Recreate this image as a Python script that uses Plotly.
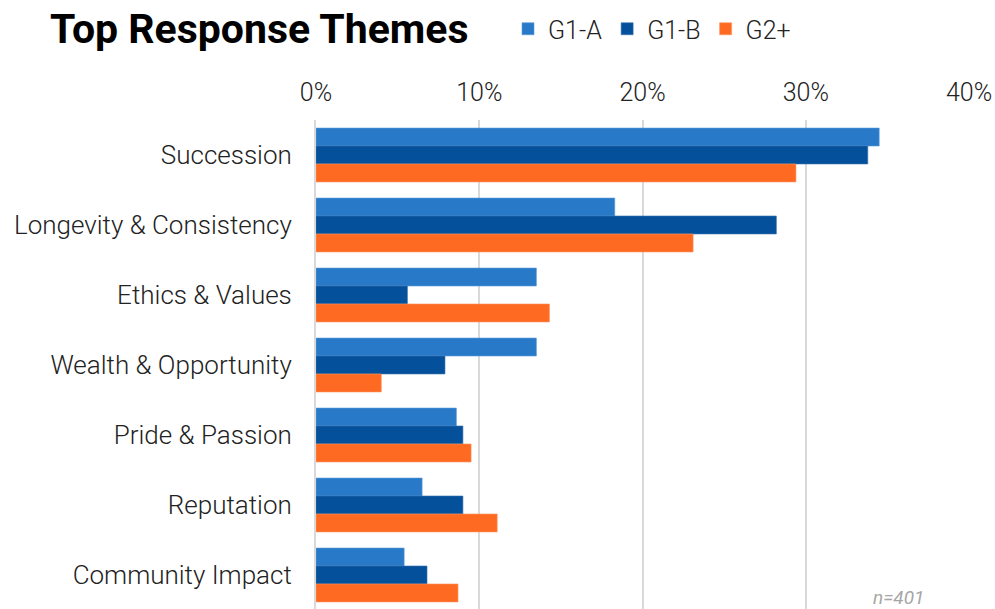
import plotly.graph_objects as go

# Response themes and share of respondents in each generation group
categories = [
    "Succession",
    "Longevity & Consistency",
    "Ethics & Values",
    "Wealth & Opportunity",
    "Pride & Passion",
    "Reputation",
    "Community Impact",
]
g1a = [34.5, 18.3, 13.5, 13.5, 8.6, 6.5, 5.4]
g1b = [33.8, 28.2, 5.6, 7.9, 9.0, 9.0, 6.8]
g2p = [29.4, 23.1, 14.3, 4.0, 9.5, 11.1, 8.7]

x_ticks = [0, 10, 20, 30, 40]
x_tick_labels = ["0%", "10%", "20%", "30%", "40%"]

series = [
    ("G1-A", g1a, "#2979C9", "#5B9AD8"),
    ("G1-B", g1b, "#05509A", "#3A73AE"),
    ("G2+", g2p, "#FF6A22", "#FF9460"),
]

fig = go.Figure()
for name, vals, color, edge in series:
    fig.add_trace(go.Bar(
        name=name,
        y=categories,
        x=vals,
        orientation="h",
        marker=dict(color=color, line=dict(color=edge, width=0.6)),
    ))

W, H = 995, 609
ML, MR, MT, MB = 316, 26, 120, 0
PW, PH = W - ML - MR, H - MT - MB

fig.update_layout(
    width=W,
    height=H,
    margin=dict(l=ML, r=MR, t=MT, b=MB),
    paper_bgcolor="white",
    plot_bgcolor="white",
    barmode="group",
    bargap=0.23,
    bargroupgap=0,
    font=dict(family="Roboto", color="#222222"),
    title=dict(
        text="<b>Top Response Themes</b>",
        font=dict(family="Roboto", size=41, color="#000000"),
        x=50 / W, xanchor="left", xref="container",
        y=1 - 29 / H, yanchor="middle", yref="container",
    ),
    legend=dict(
        orientation="h",
        xref="container", yref="container",
        x=508 / W, xanchor="left",
        y=1 - 29 / H, yanchor="middle",
        font=dict(family="Roboto", size=25, color="#222222", weight=300),
        traceorder="normal",
        itemwidth=30,
        bgcolor="rgba(0,0,0,0)",
    ),
    xaxis=dict(
        side="top",
        range=[0, 40],
        tickvals=x_ticks,
        ticktext=x_tick_labels,
        showgrid=True,
        gridcolor="#D9D9D9",
        gridwidth=2,
        zeroline=False,
        showline=False,
        ticks="",
        ticklabelstandoff=13,
        tickfont=dict(family="Roboto", size=25, color="#222222", weight=300),
        fixedrange=True,
    ),
    yaxis=dict(
        type="category",
        categoryorder="array",
        categoryarray=categories,
        range=[6.486, -0.5],
        showgrid=False,
        zeroline=False,
        showline=True,
        linecolor="#D9D9D9",
        linewidth=2,
        ticks="",
        ticklabelstandoff=17,
        tickfont=dict(family="Roboto", size=26, color="#222222", weight=300),
        fixedrange=True,
    ),
    annotations=[
        dict(
            text="<i>n=401</i>",
            xref="paper", yref="paper",
            x=(926 - ML) / PW, xanchor="right",
            y=(H - 597) / PH, yanchor="middle",
            showarrow=False,
            font=dict(family="Roboto", size=19, color="#A6A6A6"),
        )
    ],
)

fig.write_html("out.html")
